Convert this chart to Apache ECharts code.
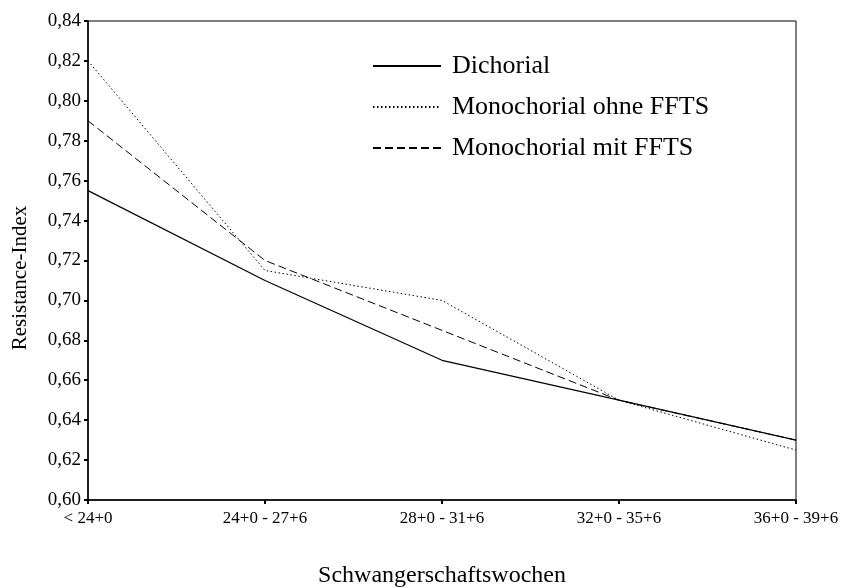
<!DOCTYPE html>
<html>
<head>
<meta charset="utf-8">
<script src="https://cdn.jsdelivr.net/npm/echarts@6/dist/echarts.min.js"></script>
<style>
  html, body { margin: 0; padding: 0; background: #fff; }
  #chart { width: 844px; height: 588px; }
</style>
</head>
<body>
<div id="chart"></div>
<script>
  // Schwangerschaftswochen (x-Kategorien)
  var weeks = ['< 24+0', '24+0 - 27+6', '28+0 - 31+6', '32+0 - 35+6', '36+0 - 39+6'];
  // Resistance-Index je Gruppe
  var dichorial = [0.755, 0.71, 0.67, 0.65, 0.63];
  var monoOhne = [0.82, 0.715, 0.70, 0.65, 0.625];
  var monoMit = [0.79, 0.72, 0.685, 0.65, 0.63];

  var font = '"Liberation Serif", "Times New Roman", serif';

  var myChart = echarts.init(document.getElementById('chart'));
  var option = {
    animation: false,
    backgroundColor: '#fff',
    grid: {
      left: 88,
      right: 48,
      top: 21,
      bottom: 88,
      outerBoundsMode: 'none',
      containLabel: false,
      show: true,
      borderColor: '#000',
      borderWidth: 1
    },
    legend: {
      orient: 'vertical',
      left: 367,
      top: 48,
      itemWidth: 68,
      itemHeight: 14,
      itemGap: 15,
      itemStyle: { opacity: 0 },
      textStyle: {
        fontFamily: font,
        fontSize: 26,
        color: '#000',
        padding: [0, 0, 0, 6]
      },
      data: ['Dichorial', 'Monochorial ohne FFTS', 'Monochorial mit FFTS']
    },
    xAxis: {
      type: 'category',
      data: weeks,
      boundaryGap: false,
      name: 'Schwangerschaftswochen',
      nameLocation: 'middle',
      nameGap: 64,
      nameTextStyle: { color: '#000', fontFamily: font, fontSize: 24 },
      axisLine: { lineStyle: { color: '#000', width: 1.5 } },
      axisTick: { show: true, length: 4, lineStyle: { color: '#000', width: 2 } },
      axisLabel: {
        color: '#000',
        fontFamily: font,
        fontSize: 17,
        margin: 10
      },
      splitLine: { show: false }
    },
    yAxis: {
      type: 'value',
      min: 0.6,
      max: 0.84,
      interval: 0.02,
      axisLine: { show: true, lineStyle: { color: '#000', width: 1.5 } },
      axisTick: { show: true, length: 4, lineStyle: { color: '#000', width: 2 } },
      axisLabel: {
        color: '#000',
        fontFamily: font,
        fontSize: 19,
        margin: 7,
        formatter: function (v) {
          return v.toFixed(2).replace('.', ',');
        }
      },
      splitLine: { show: false }
    },
    graphic: [{
      type: 'text',
      x: 20,
      y: 278,
      rotation: Math.PI / 2,
      style: {
        text: 'Resistance-Index',
        fontFamily: font,
        fontSize: 21,
        fill: '#000',
        align: 'center',
        verticalAlign: 'middle'
      }
    }],
    series: [
      {
        name: 'Monochorial mit FFTS',
        type: 'line',
        data: monoMit,
        symbol: 'none',
        lineStyle: { color: '#000', width: 1, type: [8, 4] },
        itemStyle: { color: '#000' }
      },
      {
        name: 'Monochorial ohne FFTS',
        type: 'line',
        data: monoOhne,
        symbol: 'none',
        lineStyle: { color: '#000', width: 1, type: [1.5, 2.5] },
        itemStyle: { color: '#000' }
      },
      {
        name: 'Dichorial',
        type: 'line',
        data: dichorial,
        symbol: 'none',
        lineStyle: { color: '#000', width: 1.2, type: 'solid' },
        itemStyle: { color: '#000' }
      }
    ]
  };
  myChart.setOption(option, true);
</script>
</body>
</html>
